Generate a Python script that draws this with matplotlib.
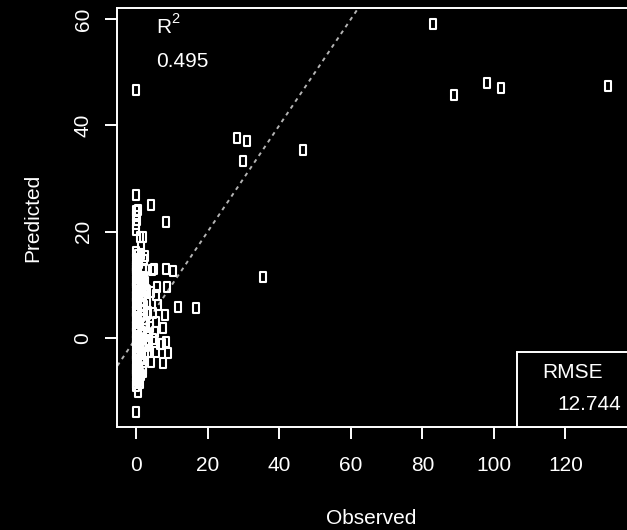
import matplotlib
matplotlib.use("Agg")
import matplotlib.pyplot as plt
from matplotlib.path import Path
from matplotlib.patches import Rectangle

plt.rcParams['font.family'] = ['Liberation Sans', 'DejaVu Sans']

# ---- data ----
observed = [
    0.0, 83.1, 88.9, 98.2, 102.0, 132.0, 28.2, 31.1, 29.9, 46.7, 35.4,
    0.0, 4.2, 8.4, 0.0, 0.0, 0.3, 0.0, 1.0, 1.9, 0.0, 1.2, 2.4, 0.3, 2.1,
    0.0, 1.9, 4.4, 5.0, 8.4, 10.3, 5.8, 8.7, 4.2, 5.6, 11.7, 16.6, 8.0, 4.7,
    5.6, 7.5, 5.2, 8.4, 6.6, 7.3, 8.9, 3.3, 5.6, 4.2, 7.5, 1.9, 0.5, 0.0,
    2.5, 3.0, 2.2, 3.5, 2.8, 1.6, 3.9, 6.2, 4.8, 2.0, 1.5,
    0.0, 0.6, 0.2, 1.0, 0.0, 0.8, 0.3, 1.2, 0.0, 0.5, 1.1, 0.2, 0.0, 0.7,
    1.3, 0.1, 0.0, 0.9, 0.4, 1.2, 0.0, 0.6, 1.4, 0.2, 0.0, 0.8, 1.0, 0.3,
    0.0, 1.3, 0.5, 0.0, 0.9, 1.6, 2.6, 2.9, 3.6, 1.8, 2.3,
    0.0, 0.4, 0.0, 0.4, 0.0, 0.4, 0.0, 0.4, 0.0, 0.4, 0.0, 0.4,
    0.0, 0.4, 0.0, 0.4, 0.0, 0.4, 0.0, 0.4, 0.0, 0.4, 0.0, 0.4,
    0.0, 0.4, 0.0, 0.4, 0.0, 0.4, 0.0, 0.4, 0.0, 0.4, 0.0, 0.4,
    1.8, 2.4, 2.0, 3.0, 2.6, 1.7, 3.2, 2.2, 1.5, 2.9, 1.8, 2.2,
    3.4, 1.4, 1.0, 2.0, 1.2, 0.0, 0.4,
]
predicted = [
    46.6, 59.1, 45.8, 47.9, 47.1, 47.5, 37.6, 37.1, 33.3, 35.3, 11.4,
    26.9, 25.0, 21.8, 23.8, 23.0, 22.2, 21.4, 18.9, 18.9, 16.2, 15.8, 15.4, 14.6, 14.6,
    12.7, 12.7, 12.7, 12.9, 12.9, 12.5, 9.6, 9.6, 8.7, 8.0, 5.8, 5.6, 4.3, 4.6,
    3.0, 1.8, 1.1, -0.8, -1.1, -1.1, -2.9, -2.6, -2.6, -4.6, -4.8, -5.8, -10.2, -14.0,
    10.5, 6.5, 3.5, 0.5, -1.5, -3.8, 2.0, 6.2, -0.2, 7.8, 1.0,
    -9.0, -8.2, -7.5, -6.9, -6.2, -5.5, -4.8, -4.1, -3.4, -2.7, -2.0, -1.3, -0.6, 0.0,
    0.6, 1.3, 2.0, 2.7, 3.4, 4.1, 4.8, 5.5, 6.2, 6.9, 7.6, 8.3, 9.0, 9.7,
    10.4, 11.1, 11.8, 13.2, 14.0, 11.0, 9.0, 4.5, -0.8, -6.5, 5.2,
    -8.6, -7.8, -7.1, -6.5, -5.8, -5.1, -4.4, -3.7, -3.0, -2.3, -1.6, -0.9,
    -0.3, 0.3, 0.9, 1.6, 2.3, 3.0, 3.7, 4.4, 5.1, 5.8, 6.5, 7.2,
    7.9, 8.6, 9.3, 10.0, 10.7, 11.4, 12.1, 12.8, 13.5, 14.2, 14.9, 15.6,
    -4.5, -3.0, -1.0, 0.8, 2.6, 4.2, 4.8, 6.0, 7.0, 8.8, 10.0, 11.5,
    -0.5, -7.0, -8.5, 13.0, 17.0, 20.2, 24.0,
]
x_ticks = [0, 20, 40, 60, 80, 100, 120]
y_ticks = [0, 20, 40, 60]
r2_value = "0.495"
rmse_value = "12.744"

W, H = 627, 530
fig = plt.figure(figsize=(W / 100, H / 100), dpi=100, facecolor='black')

ax_left, ax_right, ax_top, ax_bottom = 117.3, 628.0, 7.5, 426.7
ax = fig.add_axes([ax_left / W, 1 - ax_bottom / H,
                   (ax_right - ax_left) / W, (ax_bottom - ax_top) / H])
ax.set_facecolor('black')

# rectangle marker (like the tall open glyph)
rect_marker = Path([(-0.27, -0.5), (0.27, -0.5), (0.27, 0.5), (-0.27, 0.5), (-0.27, -0.5)],
                   [Path.MOVETO, Path.LINETO, Path.LINETO, Path.LINETO, Path.CLOSEPOLY])

ax.plot(observed, predicted, linestyle='none', marker=rect_marker,
        markersize=7.6, markerfacecolor='none', markeredgecolor='white',
        markeredgewidth=1.5, zorder=3)

ax.axline((0, 0), slope=1, color='#b4b4b4', linewidth=1.4,
          linestyle=(0, (2.0, 2.2)), zorder=2)

ax.set_xlim(-5.3, 137.5)
ax.set_ylim(-16.76, 62.2)

for s in ax.spines.values():
    s.set_color('white')
    s.set_linewidth(1.4)

ax.set_xticks(x_ticks)
ax.set_yticks(y_ticks)
ax.set_xticklabels([str(v) for v in x_ticks])
ax.set_yticklabels([str(v) for v in y_ticks], rotation=90, va='center')
ax.tick_params(axis='both', colors='white', length=8.8, width=1.4,
               labelsize=15, labelcolor='white')
ax.tick_params(axis='x', pad=12.5)
ax.tick_params(axis='y', pad=9)

# axis titles
fig.text(371 / W, 1 - 524 / H, "Observed", color='white', fontsize=15,
         ha='center', va='baseline')
fig.text(38.3 / W, 1 - 217.5 / H, "Predicted", color='white', fontsize=15,
         ha='center', va='baseline', rotation=90, rotation_mode='anchor')

# R^2 legend (no box)
def ax_frac(px, py):
    return ((px - ax_left) / (ax_right - ax_left), (ax_bottom - py) / (ax_bottom - ax_top))

x0, y0 = ax_frac(156.7, 33.3)
ax.text(x0, y0, "R", transform=ax.transAxes, color='white', fontsize=15,
        ha='left', va='baseline')
x1, y1 = ax_frac(171.0, 22.7)
ax.text(x1, y1, "2", transform=ax.transAxes, color='white', fontsize=10.5,
        ha='left', va='baseline')
x2, y2 = ax_frac(156.0, 66.7)
ax.text(x2, y2, r2_value, transform=ax.transAxes, color='white', fontsize=15,
        ha='left', va='baseline')

# RMSE legend box (bottom right)
bx, by = ax_frac(516.7, 351.7)
ax.add_patch(Rectangle((bx, 0), 1.0 - bx, by, transform=ax.transAxes,
                       facecolor='black', edgecolor='white', linewidth=1.4,
                       zorder=4, clip_on=False))
tx, ty = ax_frac(572.5, 377.5)
ax.text(tx, ty, "RMSE", transform=ax.transAxes, color='white', fontsize=15,
        ha='center', va='baseline', zorder=5)
vx, vy = ax_frac(557.0, 410.5)
ax.text(vx, vy, rmse_value, transform=ax.transAxes, color='white', fontsize=15,
        ha='left', va='baseline', zorder=5)

fig.savefig("out.png", dpi=100, facecolor='black')
